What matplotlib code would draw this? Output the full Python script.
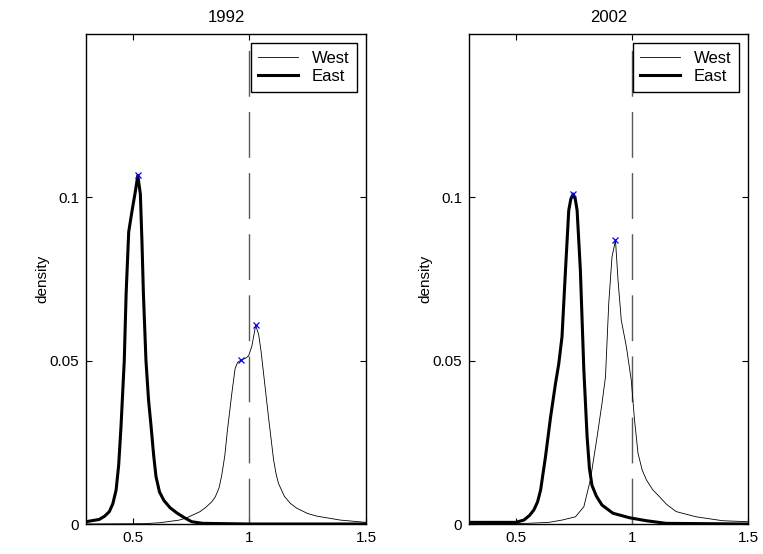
import matplotlib
matplotlib.use("Agg")
import matplotlib.pyplot as plt

plt.rcParams['font.family'] = ['Liberation Sans', 'DejaVu Sans']
plt.rcParams['font.size'] = 11

years = ["1992", "2002"]

# 1992 densities
east92_x = [0.30, 0.357, 0.38, 0.40, 0.415, 0.429, 0.44, 0.45, 0.464, 0.472, 0.483, 0.492, 0.50, 0.512,
            0.522, 0.533, 0.540, 0.546, 0.557, 0.568, 0.579, 0.59, 0.60, 0.615, 0.634, 0.66, 0.689,
            0.72, 0.753, 0.80, 1.0, 1.5]
east92_y = [0.0007, 0.0014, 0.0024, 0.0038, 0.0062, 0.0104, 0.018, 0.0298, 0.050, 0.0706, 0.0894, 0.0935,
            0.097, 0.102, 0.1067, 0.101, 0.086, 0.0706, 0.050, 0.038, 0.0298, 0.021, 0.0145, 0.0098,
            0.0072, 0.0050, 0.0034, 0.002, 0.0007, 0.0002, 0.0, 0.0]
west92_x = [0.30, 0.55, 0.618, 0.70, 0.732, 0.789, 0.815, 0.839, 0.854, 0.870, 0.882, 0.895, 0.905, 0.925,
            0.939, 0.950, 0.965, 0.985, 0.997, 1.011, 1.027, 1.040, 1.050, 1.061, 1.082, 1.104, 1.115,
            1.125, 1.150, 1.176, 1.204, 1.25, 1.290, 1.390, 1.5]
west92_y = [0.0, 0.0001, 0.0004, 0.0012, 0.0019, 0.0038, 0.0052, 0.0068, 0.0083, 0.011, 0.015, 0.021, 0.028,
            0.040, 0.0476, 0.0495, 0.0502, 0.0508, 0.0515, 0.0545, 0.0608, 0.058, 0.053, 0.0461, 0.0328,
            0.0196, 0.0152, 0.0124, 0.0085, 0.0063, 0.0048, 0.0032, 0.0024, 0.0012, 0.0005]
peaks92_x = [0.522, 0.965, 1.027]
peaks92_y = [0.1067, 0.0502, 0.0608]

# 2002 densities
east02_x = [0.30, 0.50, 0.536, 0.560, 0.579, 0.595, 0.608, 0.629, 0.651, 0.672, 0.686, 0.700, 0.715, 0.729,
            0.738, 0.748, 0.757, 0.765, 0.779, 0.794, 0.808, 0.818, 0.829, 0.848, 0.872, 0.919, 0.991,
            1.063, 1.148, 1.5]
east02_y = [0.0005, 0.0005, 0.0012, 0.0026, 0.0043, 0.0068, 0.0104, 0.0206, 0.0328, 0.043, 0.049, 0.0573,
            0.0777, 0.096, 0.0995, 0.101, 0.0995, 0.096, 0.0777, 0.047, 0.0267, 0.017, 0.0118, 0.0085,
            0.0058, 0.0033, 0.0019, 0.001, 0.0002, 0.0]
west02_x = [0.30, 0.55, 0.643, 0.70, 0.758, 0.794, 0.822, 0.851, 0.872, 0.887, 0.901, 0.915, 0.930, 0.941,
            0.955, 0.977, 0.998, 1.012, 1.027, 1.045, 1.063, 1.090, 1.120, 1.150, 1.191, 1.277, 1.391, 1.5]
west02_y = [0.0, 0.0002, 0.0005, 0.0012, 0.0022, 0.0053, 0.0135, 0.0267, 0.0369, 0.045, 0.0675, 0.0817,
            0.0869, 0.0746, 0.0624, 0.0542, 0.044, 0.0318, 0.0216, 0.0165, 0.0135, 0.0105, 0.0083, 0.006,
            0.0038, 0.0022, 0.001, 0.0007]
peaks02_x = [0.748, 0.930]
peaks02_y = [0.101, 0.0869]

xticks = [0.5, 1, 1.5]
xticklabels = ["0.5", "1", "1.5"]
yticks = [0, 0.05, 0.1]
yticklabels = ["0", "0.05", "0.1"]

panels = [
    (years[0], west92_x, west92_y, east92_x, east92_y, peaks92_x, peaks92_y),
    (years[1], west02_x, west02_y, east02_x, east02_y, peaks02_x, peaks02_y),
]

fig = plt.figure(figsize=(7.63, 5.54), dpi=100)
W, H = 763, 554
lefts = [86, 469]
widths = [280, 279]

for i, (title, wx, wy, ex, ey, px, py) in enumerate(panels):
    ax = fig.add_axes([lefts[i] / W, 30 / H, widths[i] / W, 490 / H])
    ax.plot([1, 1], [0, 0.15], color='0.35', lw=1.0, dashes=(33, 11))
    ax.plot(wx, wy, color='black', lw=0.6, label='West')
    ax.plot(ex, ey, color='black', lw=2.2, label='East')
    ax.plot(px, py, linestyle='none', marker='x', color='blue', ms=5, mew=0.9)

    ax.set_xlim(0.3, 1.5)
    ax.set_ylim(0, 0.15)
    ax.set_xticks(xticks)
    ax.set_xticklabels(xticklabels)
    ax.set_yticks(yticks)
    ax.set_yticklabels(yticklabels)
    ax.tick_params(direction='in', top=True, right=True, length=4, width=0.8, pad=5, labelsize=11)
    for s in ax.spines.values():
        s.set_linewidth(1.0)
    ax.set_title(title, fontsize=12, pad=9)
    ax.set_ylabel('density', fontsize=11, labelpad=0)

    leg = ax.legend(loc='upper right', fancybox=False, framealpha=1, edgecolor='black',
                    borderaxespad=0.55, handlelength=2.4, fontsize=12, borderpad=0.45,
                    labelspacing=0.2, handletextpad=0.8)
    leg.get_frame().set_linewidth(1.0)

fig.savefig('out.png', dpi=100)
